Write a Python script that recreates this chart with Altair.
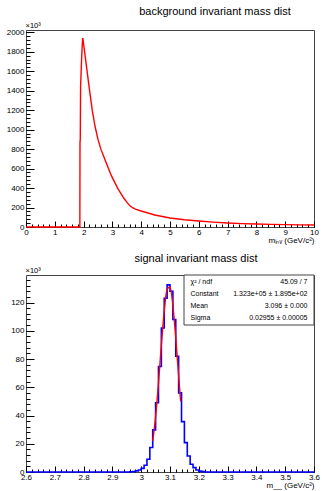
import altair as alt
import pandas as pd

# ---------------- data ----------------
# background invariant mass (values in units of 10^3 counts)
bg_x = [0.0, 1.87, 1.875, 1.885, 1.895, 1.93, 1.965, 1.975, 2.0, 2.1, 2.2, 2.3, 2.4,
        2.5, 2.6, 2.73, 2.96, 3.19, 3.4, 3.5, 3.6, 3.7, 3.8, 4.0, 4.47, 5.0, 5.5, 6.0,
        6.5, 7.0, 7.5, 8.0, 8.5, 9.0, 9.5, 10.0]
bg_y = [0, 0, 870, 900, 1440, 1720, 1935, 1935, 1880, 1650, 1420, 1200, 1030,
        900, 800, 700, 530, 394, 295, 255, 220, 198, 184, 164, 123, 92, 75, 62,
        50, 41, 35, 31, 27, 24, 22, 20]

# signal histogram: bin left edges and contents (10^3 counts), step drawing
sig_edges = [2.6, 2.96, 2.97, 2.98, 2.99, 3.00, 3.01, 3.02, 3.03, 3.04, 3.05, 3.06,
             3.07, 3.08, 3.09, 3.10, 3.11, 3.12, 3.13, 3.14, 3.15, 3.16, 3.17, 3.18,
             3.19, 3.20, 3.21, 3.22, 3.6]
sig_vals = [0, 0.2, 0.4, 0.8, 1.4, 2.6, 4.8, 9.0, 17.3, 29.8, 49.0, 74.7,
            102.0, 123.0, 132.5, 128.0, 108.0, 82.0, 56.0, 35.7, 20.8, 11.3, 5.5, 3.1,
            1.4, 0.6, 0.3, 0, 0]

# gaussian fit curve as drawn
fit_x = [3.04, 3.05, 3.06, 3.07, 3.08, 3.09, 3.10, 3.11, 3.12, 3.13, 3.137]
fit_y = [22, 39, 63, 90, 114, 129.5, 131, 118, 95, 68, 50]

stat_names = ["χ² / ndf", "Constant", "Mean", "Sigma"]
stat_values = ["45.09 / 7", "1.323e+05 ± 1.895e+02", "3.096 ± 0.000", "0.02955 ± 0.00005"]

top_title = "background invariant mass dist"
bot_title = "signal invariant mass dist"
top_xtitle = "mᵢₙᵥ (GeV/c²)"
bot_xtitle = "m__ (GeV/c²)"
ymult = "×10³"

top_xmaj = [0, 1, 2, 3, 4, 5, 6, 7, 8, 9, 10]
top_xmin = [round(i * 0.2, 2) for i in range(51)]
top_ymaj = [0, 200, 400, 600, 800, 1000, 1200, 1400, 1600, 1800, 2000]
top_ymin = [i * 40 for i in range(51)]

bot_xmaj = [2.6, 2.7, 2.8, 2.9, 3.0, 3.1, 3.2, 3.3, 3.4, 3.5, 3.6]
bot_xmin = [round(2.6 + i * 0.02, 2) for i in range(51)]
bot_ymaj = [0, 20, 40, 60, 80, 100, 120]
bot_ymin = [i * 4 for i in range(35)]

# ---------------- style ----------------
W, H = 288, 197
FONT = "Liberation Sans"
FRAME = "#444444"
LBL = 8


def tick_layers(df, xscale, yscale, xmaj, xmin, ymaj, ymin):
    layers = []
    for xv, yv, xs, ys in [(xmaj, ymaj, 6, 8), (xmin, ymin, 3, 4)]:
        layers.append(
            alt.Chart(df).mark_point(opacity=0, size=1).encode(
                x=alt.X("x:Q", scale=xscale,
                        axis=alt.Axis(orient="bottom", values=xv, labels=False, domain=False,
                                      grid=False, ticks=True, tickSize=xs, offset=-xs,
                                      tickColor="black", tickWidth=1, title=None)),
                y=alt.Y("y:Q", scale=yscale,
                        axis=alt.Axis(orient="left", values=yv, labels=False, domain=False,
                                      grid=False, ticks=True, tickSize=ys, offset=-ys,
                                      tickColor="black", tickWidth=1, title=None)),
            )
        )
    return layers


def main_axes(xmaj, ymaj, xtitle, xfmt):
    xa = alt.Axis(orient="bottom", values=xmaj, ticks=False, domain=False, grid=False,
                  labelFont=FONT, labelFontSize=LBL, labelColor="black", labelPadding=1,
                  labelFlush=False, labelOverlap=False, format=xfmt,
                  title=xtitle, titleX=W, titleY=15, titleAlign="right",
                  titleBaseline="alphabetic", titleFont=FONT, titleFontSize=8,
                  titleFontWeight="normal", titleColor="black")
    ya = alt.Axis(orient="left", values=ymaj, ticks=False, domain=False, grid=False,
                  labelFont=FONT, labelFontSize=LBL, labelColor="black", labelPadding=2,
                  labelFlush=False, labelOverlap=False, format="d",
                  title=ymult, titleAngle=0, titleX=-1, titleY=-3, titleAlign="left",
                  titleBaseline="alphabetic", titleFont=FONT, titleFontSize=7.5,
                  titleFontWeight="normal", titleColor="black")
    return xa, ya


# ---------------- top panel ----------------
bg = pd.DataFrame({"x": bg_x, "y": bg_y})
xs_top = alt.Scale(domain=[0, 10], nice=False, zero=False)
ys_top = alt.Scale(domain=[0, 2024], nice=False, zero=False)
xa, ya = main_axes(top_xmaj, top_ymaj, top_xtitle, "d")

bg_line = alt.Chart(bg).mark_line(color="#ff0000", strokeWidth=1.4).encode(
    x=alt.X("x:Q", scale=xs_top, axis=xa),
    y=alt.Y("y:Q", scale=ys_top, axis=ya),
)

top = alt.layer(bg_line, *tick_layers(bg, xs_top, ys_top, top_xmaj, top_xmin, top_ymaj, top_ymin)
                ).resolve_axis(x="independent", y="independent").properties(
    width=W, height=H,
    title=alt.TitleParams(top_title, font=FONT, fontSize=11, fontWeight="normal",
                          color="black", anchor="middle", dx=45, offset=4, frame="group"))

# ---------------- bottom panel ----------------
sig = pd.DataFrame({"x": sig_edges, "y": sig_vals})
fit = pd.DataFrame({"x": fit_x, "y": fit_y})
one = pd.DataFrame({"k": [0]})
xs_bot = alt.Scale(domain=[2.6, 3.6], nice=False, zero=False)
ys_bot = alt.Scale(domain=[0, 139.5], nice=False, zero=False)
xa2, ya2 = main_axes(bot_xmaj, bot_ymaj, bot_xtitle, "~g")

sig_line = alt.Chart(sig).mark_line(color="#0000ff", strokeWidth=1.6, interpolate="step-after").encode(
    x=alt.X("x:Q", scale=xs_bot, axis=xa2),
    y=alt.Y("y:Q", scale=ys_bot, axis=ya2),
)
fit_line = alt.Chart(fit).mark_line(color="#ff0000", strokeWidth=1.4, interpolate="monotone").encode(
    x=alt.X("x:Q", scale=xs_bot, axis=None),
    y=alt.Y("y:Q", scale=ys_bot, axis=None),
)

box = alt.Chart(one).mark_rect(fill="white", stroke=FRAME, strokeWidth=1).encode(
    x=alt.value(158), x2=alt.value(W), y=alt.value(0), y2=alt.value(50))
stat_layers = [box]
row_y = [6.5, 19, 31.3, 43.3]
for name, val, ry in zip(stat_names, stat_values, row_y):
    stat_layers.append(alt.Chart(one).mark_text(
        font=FONT, fontSize=7, align="left", baseline="middle", color="black", text=name
    ).encode(x=alt.value(164.5), y=alt.value(ry)))
    stat_layers.append(alt.Chart(one).mark_text(
        font=FONT, fontSize=7, align="right", baseline="middle", color="black", text=val
    ).encode(x=alt.value(281.5), y=alt.value(ry)))

bottom = alt.layer(sig_line, fit_line, *stat_layers,
                   *tick_layers(sig, xs_bot, ys_bot, bot_xmaj, bot_xmin, bot_ymaj, bot_ymin)
                   ).resolve_axis(x="independent", y="independent").properties(
    width=W, height=H,
    title=alt.TitleParams(bot_title, font=FONT, fontSize=11, fontWeight="normal",
                          color="black", anchor="middle", dx=26, offset=2, frame="group"))

chart = alt.vconcat(top, bottom, spacing=7).properties(
    padding={"left": 5, "top": 5, "right": 0, "bottom": 0}
).configure_view(stroke=FRAME, strokeWidth=1)

chart.save("out.html", embed_options={"renderer": "svg", "actions": False})
